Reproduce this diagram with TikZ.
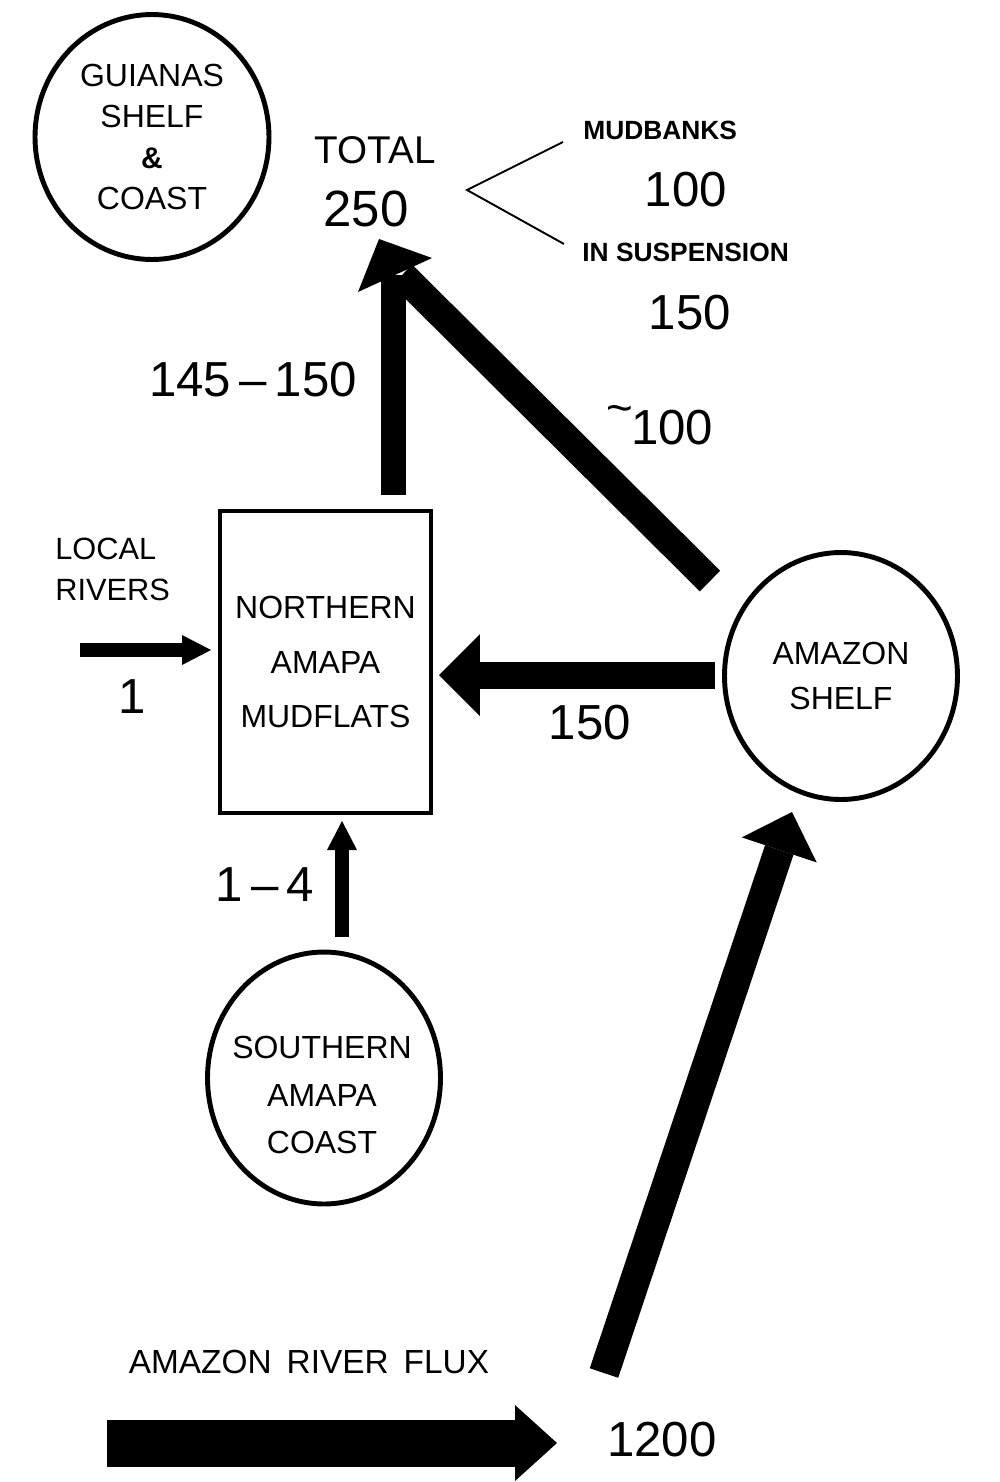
\documentclass[tikz,border=0pt]{standalone}
\usepackage{fontspec}
\setmainfont{Liberation Sans}
\usetikzlibrary{arrows.meta,shapes.geometric}
\tikzset{
  blob/.style={ellipse, draw, line width=2.8pt, inner sep=0pt},
  boxst/.style={rectangle, draw, line width=2.5pt, inner sep=0pt},
  lbl/.style={inner sep=0pt, align=center, font=\fontsize{18.2}{#1}\selectfont},
  lbl/.default=26pt,
  num/.style={inner sep=0pt, font=\fontsize{28}{30}\selectfont},
  tag/.style={inner sep=0pt, font=\bfseries\fontsize{15}{18}\selectfont},
  flow/.style n args={3}{line width=#1, -{Triangle[length=#2, width=#3, line width=0pt]}},
  thinline/.style={line width=1.1pt}
}
\begin{document}
\begin{tikzpicture}[x=0.02cm,y=-0.02cm]
\useasboundingbox (0,0) rectangle (1000,1482);

% boxes and circles
\node[blob, minimum width=4.68cm, minimum height=4.9cm, lbl=23.5pt] (guianas) at (152,137)
  {GUIANAS\\SHELF\\{\fontsize{17}{17}\selectfont\bfseries\&}\\COAST};
\node[boxst, minimum width=4.21cm, minimum height=6.03cm, lbl=31.2pt] (box) at (325.5,662)
  {NORTHERN\\AMAPA\\MUDFLATS};
\node[blob, minimum width=4.66cm, minimum height=4.94cm, lbl=26pt] (amz) at (841,676)
  {AMAZON\\SHELF};
\node[blob, minimum width=4.66cm, minimum height=5.04cm] (south) at (324,1078) {};
\node[lbl=27pt] (southtxt) at (322,1095) {SOUTHERN\\AMAPA\\COAST};

% total and partition
\node[inner sep=0pt, font=\fontsize{22}{22}\selectfont] (total) at (375,150) {TOTAL};
\node[num, font=\fontsize{29}{30}\selectfont] (tot) at (366,209) {250};
\coordinate (bv) at (467,190);
\coordinate (bu) at (563,142);
\coordinate (bl) at (564,244);
\draw[thinline] (bu) -- (bv) -- (bl);
\node[tag, anchor=west] (mud) at (583,130) {MUDBANKS};
\node[num] (mudv) at (686,190) {100};
\node[tag, anchor=west] (susp) at (582,252) {IN SUSPENSION};
\node[num] (suspv) at (690,313) {150};

% flows to total
\coordinate (ttip) at (379,239);
\coordinate (vtail) at (393.5,495);
\coordinate (vtop) at (393.5,275);
\coordinate (dtail) at (710,581);
\coordinate (dhead) at (402,275);
\draw[line width=0.58cm] (dtail) -- (dhead);
\draw[line width=0.5cm] (vtail) -- (vtop);
\fill (ttip) -- ++(-21,53) -- ++(74,-34) -- cycle;
\node[num] (v1) at (253,380) {145\,–\,150};
\node[num] (v2) at (660,425) {\raisebox{0.42em}{\fontsize{26}{26}\selectfont\textasciitilde}\hspace{-0.05em}100};

% local rivers
\node[inner sep=0pt, anchor=west, font=\fontsize{17.5}{20}\selectfont] (loc1) at (55,549) {LOCAL};
\node[inner sep=0pt, anchor=west, font=\fontsize{17.5}{20}\selectfont] (loc2) at (55,590) {RIVERS};
\coordinate (ltail) at (80,650);
\coordinate (ltip) at (211,650);
\draw[flow={0.28cm}{0.58cm}{0.6cm}] (ltail) -- (ltip);
\node[num] (lv) at (132,697) {1};

% amazon shelf to mudflats
\coordinate (htail) at (715,675);
\coordinate (htip) at (439,675);
\draw[flow={0.54cm}{0.82cm}{1.64cm}] (htail) -- (htip);
\node[num] (hv) at (590,723) {150};

% southern coast to mudflats
\coordinate (stail) at (342,937);
\coordinate (stip) at (342,821);
\draw[flow={0.28cm}{0.58cm}{0.6cm}] (stail) -- (stip);
\node[num] (sv) at (265,885) {1\,–\,4};

% amazon river flux
\node[inner sep=0pt, font=\fontsize{19}{20}\selectfont] (flux) at (309,1362) {AMAZON\hspace{0.45em}RIVER\hspace{0.45em}FLUX};
\coordinate (ftail) at (107,1443);
\coordinate (ftip) at (557,1443);
\draw[flow={0.94cm}{0.84cm}{1.52cm}] (ftail) -- (ftip);
\node[num] (fv) at (662,1440) {1200};
\coordinate (atail) at (604,1373);
\coordinate (atip) at (792,812);
\draw[flow={0.6cm}{0.8cm}{1.58cm}] (atail) -- (atip);
\end{tikzpicture}
\end{document}
